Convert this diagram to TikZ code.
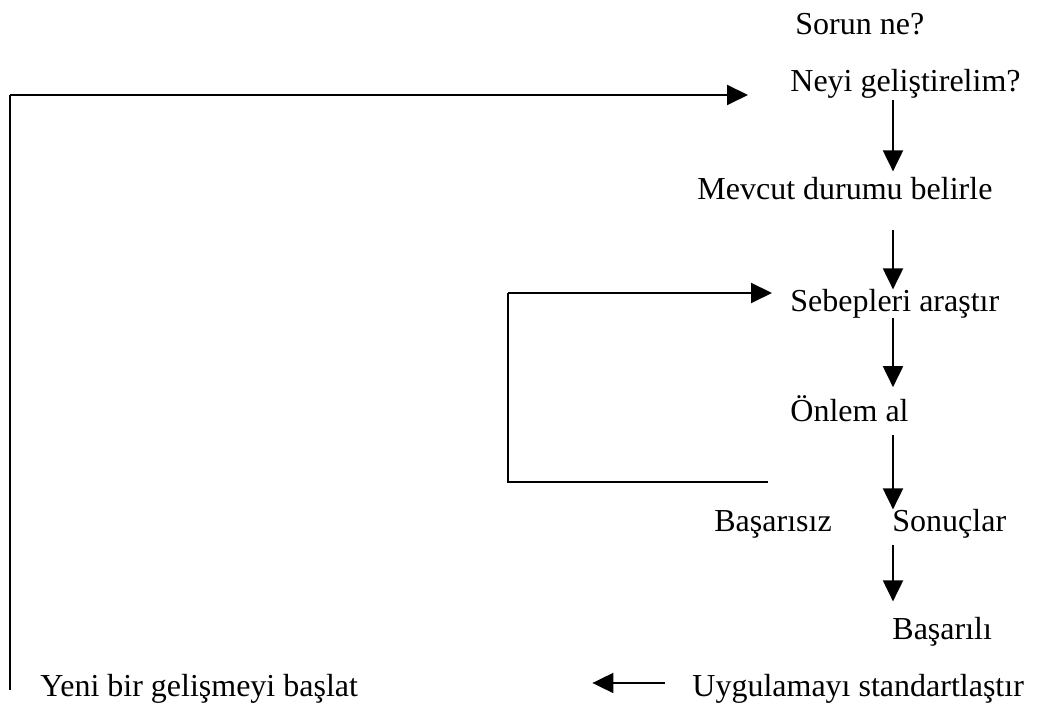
\documentclass[tikz,border=0pt]{standalone}
\usepackage{fontspec}
\setmainfont{Liberation Serif}
\usetikzlibrary{arrows.meta}
\tikzset{
  lbl/.style={anchor=base west, inner sep=0pt, font=\fontsize{16}{19}\selectfont},
  arr/.style={line width=1pt, -{Triangle[length=10.5pt,width=10pt]}},
  ln/.style={line width=1pt},
}
\begin{document}
\begin{tikzpicture}[x=0.5pt,y=-0.5pt]
\useasboundingbox (0,0) rectangle (1040,704);
% step labels
\node[lbl] (sorun)     at (795,35)  {Sorun ne?};
\node[lbl] (neyi)      at (790,92)  {Neyi geliştirelim?};
\node[lbl] (mevcut)    at (697,200) {Mevcut durumu belirle};
\node[lbl] (sebep)     at (790,312) {Sebepleri araştır};
\node[lbl] (onlem)     at (790,422) {Önlem al};
\node[lbl] (basarisiz) at (714,532) {Başarısız};
\node[lbl] (sonuc)     at (892,532) {Sonuçlar};
\node[lbl] (basarili)  at (892,640) {Başarılı};
\node[lbl] (uygula)    at (692,697) {Uygulamayı standartlaştır};
\node[lbl] (yeni)      at (40,697)  {Yeni bir gelişmeyi başlat};
% the main downward flow runs along x = 893
\coordinate (ax) at (893,0);
\draw[arr, shorten <=4pt,   shorten >=3pt]    (neyi.base -| ax)   -- (mevcut.north -| ax);
\draw[arr, shorten <=15pt,  shorten >=0pt]    (mevcut.base -| ax) -- (sebep.north -| ax);
\draw[arr, shorten <=3pt,   shorten >=4.25pt] (sebep.base -| ax)  -- (onlem.north -| ax);
\draw[arr, shorten <=6.5pt, shorten >=0pt]    (onlem.base -| ax)  -- (sonuc.north -| ax);
\draw[arr, shorten <=6.5pt, shorten >=8pt]    (sonuc.base -| ax)  -- (basarili.north -| ax);
% standardise, then start a new improvement
\draw[arr, shorten <=13.5pt, shorten >=117pt] ([yshift=7pt]uygula.base west) -- ([yshift=7pt]yeni.base east);
% failure loop back to the causes
\coordinate (fA) at (768,482);
\coordinate (fB) at (508,482);
\coordinate (fC) at (508,293);
\coordinate (fD) at (772,293);
\draw[ln] (fA) -- (fB) -- (fC);
\draw[arr] (fC) -- (fD);
% restart loop back to the question
\coordinate (rA) at (10,690);
\coordinate (rB) at (10,95);
\coordinate (rC) at (748,95);
\draw[ln] (rA) -- (rB);
\draw[arr] (rB) -- (rC);
\end{tikzpicture}
\end{document}
